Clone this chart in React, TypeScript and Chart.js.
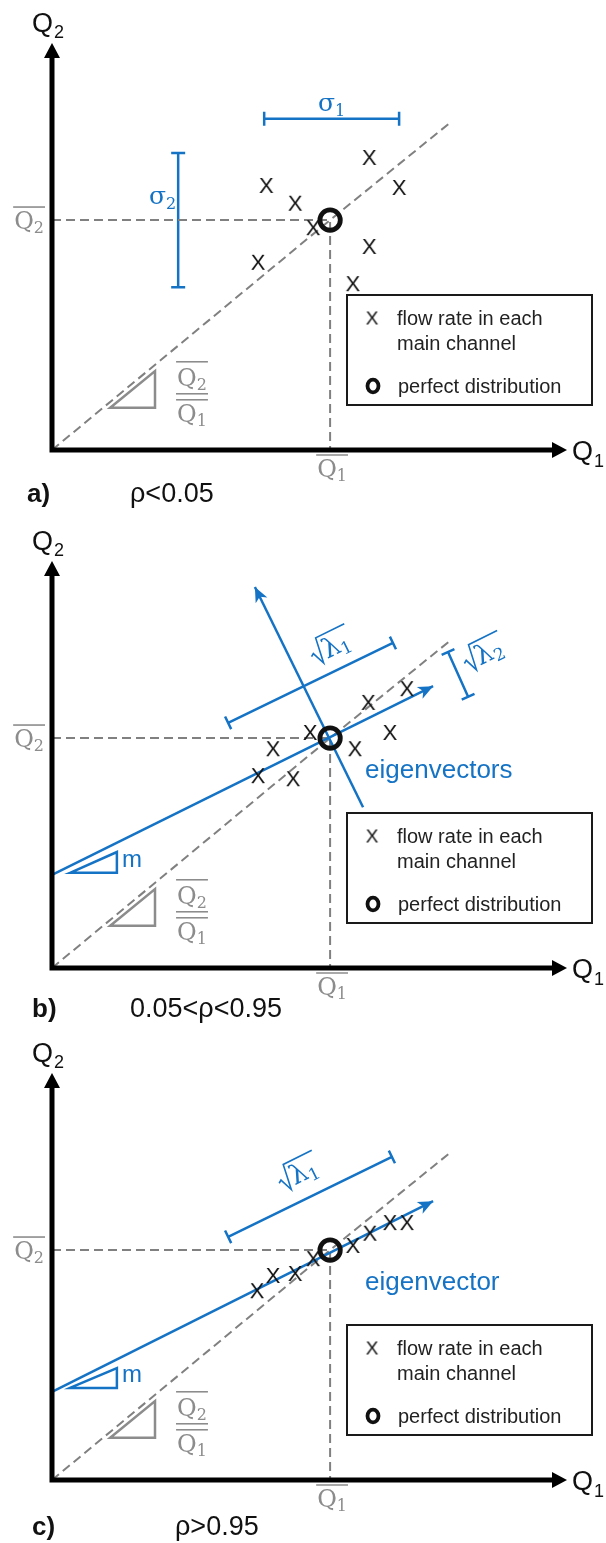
import { useEffect, useRef } from 'react';
import { Chart, registerables } from 'chart.js';

Chart.register(...registerables);

type Pt = [number, number];

const SANS = '"Liberation Sans", Arial, sans-serif';
const SERIF = '"DejaVu Serif", "Liberation Serif", serif';
const BLUE = '#1573c5';
const GREY = '#8c8c8c';
const DASH_GREY = '#808080';
const INK = '#111111';

// Axis ranges (flow-rate units)
const Q1_RANGE: Pt = [0, 100];
const Q2_RANGE: Pt = [0, 80];

// Mean flow rates (Q̄1, Q̄2): the "perfect distribution" point
const MEAN: Pt = [54, 45.2];
// Equal-split line Q2 = (Q̄2/Q̄1)·Q1 through the origin and the mean
const RATIO_LINE: Pt[] = [[0, 0], [54, 45.2], [77.5, 64.5]];
// Slope triangle under the equal-split line (hypotenuse ends, right-angle corner)
const RATIO_TRIANGLE: Pt[] = [[11.3, 8.3], [20, 15.5], [20, 8.3]];

// a) uncorrelated channel flow rates
const FLOW_A: Pt[] = [
  [61.6, 57.6], [41.6, 52.1], [47.2, 48.6], [50.7, 43.8],
  [40.0, 37.0], [67.4, 51.7], [61.6, 40.1], [58.4, 32.8],
];
const SIGMA1_A: Pt[] = [[41.2, 65.1], [67.4, 65.1]];
const SIGMA2_A: Pt[] = [[24.5, 32.0], [24.5, 58.4]];

// b) partly correlated channel flow rates
const FLOW_B: Pt[] = [
  [68.9, 55.0], [61.4, 52.3], [50.1, 46.4], [42.9, 43.2],
  [58.8, 43.2], [65.6, 46.4], [40.0, 37.9], [46.8, 37.3],
];
const EIGEN_MAJOR_B: Pt[] = [[0, 18.3], [74, 55.4]];
const EIGEN_MINOR_B: Pt[] = [[60.4, 31.6], [39.4, 74.9]];
const SQRT_LAMBDA1_B: Pt[] = [[34.2, 48.2], [66.2, 63.9]];
const SQRT_LAMBDA2_B: Pt[] = [[76.9, 62.1], [80.8, 53.3]];
const SLOPE_M_B: Pt[] = [[3.5, 18.7], [12.6, 22.8], [12.6, 18.7]];

// c) strongly correlated channel flow rates
const FLOW_C: Pt[] = [
  [68.9, 50.7], [65.6, 50.7], [61.7, 48.6], [58.4, 46.2],
  [50.7, 43.6], [47.2, 40.7], [42.9, 40.3], [39.8, 37.3],
];
const EIGEN_MAJOR_C: Pt[] = [[0, 17.3], [74, 54.8]];
const SQRT_LAMBDA1_C: Pt[] = [[34.2, 47.8], [66.0, 63.5]];
const SLOPE_M_C: Pt[] = [[3.5, 18.1], [12.6, 22.0], [12.6, 18.1]];

interface PanelSpec {
  flow: Pt[];
  tag: string;
  condition: string;
  tagX: number;
  conditionX: number;
  captionBaseline: number;
  sigma1?: Pt[];
  sigma2?: Pt[];
  eigenMajor?: Pt[];
  eigenMinor?: Pt[];
  lambda1?: Pt[];
  lambda1Offset?: Pt;
  lambda2?: Pt[];
  lambda2Offset?: Pt;
  slopeM?: Pt[];
  eigenText?: string;
}

const PANELS: PanelSpec[] = [
  {
    flow: FLOW_A, tag: 'a)', condition: 'ρ<0.05', tagX: 27, conditionX: 130, captionBaseline: 502,
    sigma1: SIGMA1_A, sigma2: SIGMA2_A,
  },
  {
    flow: FLOW_B, tag: 'b)', condition: '0.05<ρ<0.95', tagX: 32, conditionX: 130, captionBaseline: 499,
    eigenMajor: EIGEN_MAJOR_B, eigenMinor: EIGEN_MINOR_B,
    lambda1: SQRT_LAMBDA1_B, lambda1Offset: [34, -24],
    lambda2: SQRT_LAMBDA2_B, lambda2Offset: [32, -8],
    slopeM: SLOPE_M_B, eigenText: 'eigenvectors',
  },
  {
    flow: FLOW_C, tag: 'c)', condition: 'ρ>0.95', tagX: 32, conditionX: 175, captionBaseline: 505,
    eigenMajor: EIGEN_MAJOR_C,
    lambda1: SQRT_LAMBDA1_C, lambda1Offset: [0, -27],
    slopeM: SLOPE_M_C, eigenText: 'eigenvector',
  },
];

const PANEL_TOPS = [0, 518, 1030];
const W = 606;
const H = 513;

function makeGlyph(text: string, size: number): HTMLCanvasElement {
  const c = document.createElement('canvas');
  c.width = size + 2;
  c.height = size + 2;
  const g = c.getContext('2d')!;
  g.fillStyle = INK;
  g.font = `${size}px ${SANS}`;
  g.textAlign = 'center';
  g.textBaseline = 'alphabetic';
  g.fillText(text, c.width / 2, c.height / 2 + size * 0.716 / 2);
  return c;
}

function strokePoly(ctx: CanvasRenderingContext2D, pts: Pt[], color: string, width: number) {
  ctx.strokeStyle = color;
  ctx.lineWidth = width;
  ctx.lineJoin = 'miter';
  ctx.beginPath();
  pts.forEach((p, i) => (i === 0 ? ctx.moveTo(p[0], p[1]) : ctx.lineTo(p[0], p[1])));
  ctx.closePath();
  ctx.stroke();
}

function bracket(ctx: CanvasRenderingContext2D, a: Pt, b: Pt, cap: number) {
  const dx = b[0] - a[0];
  const dy = b[1] - a[1];
  const L = Math.hypot(dx, dy);
  const nx = (-dy / L) * (cap / 2);
  const ny = (dx / L) * (cap / 2);
  ctx.beginPath();
  ctx.moveTo(a[0], a[1]);
  ctx.lineTo(b[0], b[1]);
  ctx.moveTo(a[0] + nx, a[1] + ny);
  ctx.lineTo(a[0] - nx, a[1] - ny);
  ctx.moveTo(b[0] + nx, b[1] + ny);
  ctx.lineTo(b[0] - nx, b[1] - ny);
  ctx.stroke();
}

function stealthHead(ctx: CanvasRenderingContext2D, from: Pt, tip: Pt, len: number, half: number, notch: number) {
  const dx = tip[0] - from[0];
  const dy = tip[1] - from[1];
  const L = Math.hypot(dx, dy);
  const ux = dx / L;
  const uy = dy / L;
  const nx = -uy;
  const ny = ux;
  const bx = tip[0] - ux * len;
  const by = tip[1] - uy * len;
  ctx.beginPath();
  ctx.moveTo(tip[0], tip[1]);
  ctx.lineTo(bx + nx * half, by + ny * half);
  ctx.lineTo(tip[0] - ux * (len - notch), tip[1] - uy * (len - notch));
  ctx.lineTo(bx - nx * half, by - ny * half);
  ctx.closePath();
  ctx.fill();
}

function barQ(
  ctx: CanvasRenderingContext2D, x: number, baseline: number, sub: string,
  align: 'left' | 'center' | 'right', size: number, overGap: number,
) {
  const ss = Math.round(size * 0.66);
  ctx.font = `${size}px ${SERIF}`;
  const qw = ctx.measureText('Q').width;
  ctx.font = `${ss}px ${SERIF}`;
  const sw = ctx.measureText(sub).width;
  const w = qw + sw;
  const x0 = align === 'left' ? x : align === 'center' ? x - w / 2 : x - w;
  ctx.fillStyle = GREY;
  ctx.textAlign = 'left';
  ctx.textBaseline = 'alphabetic';
  ctx.font = `${size}px ${SERIF}`;
  ctx.fillText('Q', x0, baseline);
  ctx.font = `${ss}px ${SERIF}`;
  ctx.fillText(sub, x0 + qw, baseline + 4);
  ctx.strokeStyle = GREY;
  ctx.lineWidth = 1.6;
  ctx.beginPath();
  ctx.moveTo(x0 - 1, baseline - overGap);
  ctx.lineTo(x0 + w + 1, baseline - overGap);
  ctx.stroke();
}

function radicalLabel(ctx: CanvasRenderingContext2D, cx: number, cy: number, angle: number, sub: string) {
  ctx.save();
  ctx.translate(cx, cy);
  ctx.rotate(angle);
  ctx.font = `27px ${SERIF}`;
  const lw = ctx.measureText('λ').width;
  ctx.font = `17px ${SERIF}`;
  const sw = ctx.measureText(sub).width;
  const rad = 13;
  const w = rad + lw + sw + 2;
  const x0 = -w / 2;
  const base = 10;
  const topY = base - 24;
  ctx.strokeStyle = BLUE;
  ctx.lineWidth = 1.6;
  ctx.lineJoin = 'miter';
  ctx.beginPath();
  ctx.moveTo(x0, base - 9);
  ctx.lineTo(x0 + 3, base - 11);
  ctx.lineTo(x0 + 8, base + 2);
  ctx.lineTo(x0 + rad - 1, topY);
  ctx.lineTo(x0 + w + 1, topY);
  ctx.stroke();
  ctx.fillStyle = BLUE;
  ctx.textAlign = 'left';
  ctx.textBaseline = 'alphabetic';
  ctx.font = `27px ${SERIF}`;
  ctx.fillText('λ', x0 + rad, base);
  ctx.font = `17px ${SERIF}`;
  ctx.fillText(sub, x0 + rad + lw, base + 4);
  ctx.restore();
}

function sigmaLabel(ctx: CanvasRenderingContext2D, x: number, baseline: number, sub: string, align: 'center' | 'right') {
  ctx.font = `25px ${SERIF}`;
  const gw = ctx.measureText('σ').width;
  ctx.font = `16px ${SERIF}`;
  const sw = ctx.measureText(sub).width;
  const w = gw + sw;
  const x0 = align === 'center' ? x - w / 2 : x - w;
  ctx.fillStyle = BLUE;
  ctx.textAlign = 'left';
  ctx.textBaseline = 'alphabetic';
  ctx.font = `25px ${SERIF}`;
  ctx.fillText('σ', x0, baseline);
  ctx.font = `16px ${SERIF}`;
  ctx.fillText(sub, x0 + gw, baseline + 5);
}

function diagramPlugin(spec: PanelSpec, legendGlyph: HTMLCanvasElement) {
  return {
    id: 'flowDiagram',
    beforeDatasetsDraw(chart: Chart) {
      const ctx = chart.ctx;
      const P = (p: Pt): Pt => [chart.scales.x.getPixelForValue(p[0]), chart.scales.y.getPixelForValue(p[1])];
      ctx.save();
      strokePoly(ctx, RATIO_TRIANGLE.map(P), GREY, 2.5);
      if (spec.slopeM) strokePoly(ctx, spec.slopeM.map(P), BLUE, 2.5);
      ctx.strokeStyle = BLUE;
      ctx.lineWidth = 2.5;
      ctx.lineCap = 'butt';
      for (const b of [spec.sigma1, spec.sigma2, spec.lambda1, spec.lambda2]) {
        if (b) bracket(ctx, P(b[0]), P(b[1]), 14);
      }
      ctx.restore();
    },
    afterDatasetsDraw(chart: Chart) {
      const ctx = chart.ctx;
      const P = (p: Pt): Pt => [chart.scales.x.getPixelForValue(p[0]), chart.scales.y.getPixelForValue(p[1])];
      const { left, right, top, bottom } = chart.chartArea;
      ctx.save();

      // eigenvector arrowheads
      ctx.fillStyle = BLUE;
      for (const e of [spec.eigenMajor, spec.eigenMinor]) {
        if (e) stealthHead(ctx, P(e[0]), P(e[e.length - 1]), 15, 6.5, 4);
      }

      // axes with arrowheads
      ctx.strokeStyle = '#000';
      ctx.fillStyle = '#000';
      ctx.lineWidth = 5;
      ctx.lineCap = 'butt';
      ctx.beginPath();
      ctx.moveTo(left, bottom + 2.5);
      ctx.lineTo(left, top + 12);
      ctx.moveTo(left - 2.5, bottom);
      ctx.lineTo(right - 12, bottom);
      ctx.stroke();
      ctx.beginPath();
      ctx.moveTo(left, top);
      ctx.lineTo(left - 8, top + 15);
      ctx.lineTo(left + 8, top + 15);
      ctx.closePath();
      ctx.fill();
      ctx.beginPath();
      ctx.moveTo(right, bottom);
      ctx.lineTo(right - 15, bottom - 8);
      ctx.lineTo(right - 15, bottom + 8);
      ctx.closePath();
      ctx.fill();

      // axis titles
      ctx.fillStyle = INK;
      ctx.textAlign = 'left';
      ctx.textBaseline = 'alphabetic';
      ctx.font = `27px ${SANS}`;
      ctx.fillText('Q', 32, top - 11);
      ctx.fillText('Q', right + 5, bottom + 10);
      ctx.font = `18px ${SANS}`;
      ctx.fillText('2', 54, top - 5);
      ctx.fillText('1', right + 27, bottom + 17);

      // mean labels on the axes
      const m = P(MEAN);
      barQ(ctx, left - 8, m[1] + 9, '2', 'right', 24, 22);
      barQ(ctx, m[0] + 2, bottom + 27, '1', 'center', 24, 22);

      // Q̄2/Q̄1 next to the slope triangle
      const v = P(RATIO_TRIANGLE[2]);
      const fx = v[0] + 37;
      barQ(ctx, fx, v[1] - 22, '2', 'center', 24, 24);
      barQ(ctx, fx, v[1] + 14, '1', 'center', 24, 22);
      ctx.strokeStyle = GREY;
      ctx.lineWidth = 1.6;
      ctx.beginPath();
      ctx.moveTo(fx - 16, v[1] - 14);
      ctx.lineTo(fx + 16, v[1] - 14);
      ctx.stroke();

      // slope m of the principal axis
      if (spec.slopeM) {
        const c = P(spec.slopeM[2]);
        ctx.fillStyle = BLUE;
        ctx.font = `24px ${SANS}`;
        ctx.textAlign = 'left';
        ctx.fillText('m', c[0] + 5, c[1] - 6);
      }

      // standard deviations
      if (spec.sigma1) {
        const a = P(spec.sigma1[0]);
        const b = P(spec.sigma1[1]);
        sigmaLabel(ctx, (a[0] + b[0]) / 2, a[1] - 8, '1', 'center');
      }
      if (spec.sigma2) {
        const a = P(spec.sigma2[0]);
        const b = P(spec.sigma2[1]);
        sigmaLabel(ctx, a[0] - 2, (a[1] + b[1]) / 2 - 16, '2', 'right');
      }

      // square-root eigenvalue labels, rotated along the principal axis
      if (spec.eigenMajor) {
        const e0 = P(spec.eigenMajor[0]);
        const e1 = P(spec.eigenMajor[1]);
        const ang = Math.atan2(e1[1] - e0[1], e1[0] - e0[0]);
        const place = (br: Pt[] | undefined, off: Pt | undefined, sub: string) => {
          if (!br || !off) return;
          const a = P(br[0]);
          const b = P(br[1]);
          const mx = (a[0] + b[0]) / 2;
          const my = (a[1] + b[1]) / 2;
          const cx = mx + off[0] * Math.cos(ang) - off[1] * Math.sin(ang);
          const cy = my + off[0] * Math.sin(ang) + off[1] * Math.cos(ang);
          radicalLabel(ctx, cx, cy, ang, sub);
        };
        place(spec.lambda1, spec.lambda1Offset, '1');
        place(spec.lambda2, spec.lambda2Offset, '2');
      }

      if (spec.eigenText) {
        ctx.fillStyle = BLUE;
        ctx.font = `26px ${SANS}`;
        ctx.textAlign = 'left';
        ctx.fillText(spec.eigenText, m[0] + 35, m[1] + 40);
      }

      // legend box
      const lt = bottom - 155;
      const lb = bottom - 45;
      const ll = 347;
      const lr = 592;
      ctx.strokeStyle = '#1a1a1a';
      ctx.lineWidth = 2;
      ctx.strokeRect(ll, lt, lr - ll, lb - lt);
      ctx.drawImage(legendGlyph, 372 - legendGlyph.width / 2, lt + 23 - legendGlyph.height / 2);
      ctx.fillStyle = '#222';
      ctx.font = `20px ${SANS}`;
      ctx.textAlign = 'left';
      ctx.fillText('flow rate in each', 397, lt + 30);
      ctx.fillText('main channel', 397, lt + 55);
      ctx.fillText('perfect distribution', 398, lt + 98);
      ctx.strokeStyle = INK;
      ctx.lineWidth = 3.8;
      ctx.beginPath();
      ctx.ellipse(373, lt + 91, 5.5, 6.3, 0, 0, Math.PI * 2);
      ctx.stroke();

      // caption
      ctx.fillStyle = INK;
      ctx.font = `bold 26px ${SANS}`;
      ctx.fillText(spec.tag, spec.tagX, spec.captionBaseline);
      ctx.font = `27px ${SANS}`;
      ctx.fillText(spec.condition, spec.conditionX, spec.captionBaseline);

      ctx.restore();
    },
  };
}

const toXY = (pts: Pt[]) => pts.map(([x, y]) => ({ x, y }));

function Panel({ spec, top }: { spec: PanelSpec; top: number }) {
  const ref = useRef<HTMLCanvasElement>(null);

  useEffect(() => {
    const canvas = ref.current;
    if (!canvas) return;
    const cross = makeGlyph('X', 22);
    const legendCross = makeGlyph('X', 19);

    const line = (pts: Pt[], color: string, width: number, dash: number[], order: number) => ({
      data: toXY(pts),
      showLine: true,
      borderColor: color,
      borderWidth: width,
      borderDash: dash,
      pointRadius: 0,
      clip: false as const,
      order,
    });

    const datasets: any[] = [
      line(RATIO_LINE, DASH_GREY, 2, [9, 5], 6),
      line([[Q1_RANGE[0], MEAN[1]], MEAN, [MEAN[0], Q2_RANGE[0]]], DASH_GREY, 2, [9, 5], 5),
    ];
    if (spec.eigenMajor) datasets.push(line(spec.eigenMajor, BLUE, 2.5, [], 4));
    if (spec.eigenMinor) datasets.push(line(spec.eigenMinor, BLUE, 2.5, [], 4));
    datasets.push({
      data: toXY(spec.flow),
      pointStyle: cross,
      pointRadius: 10,
      clip: false,
      order: 2,
    });
    datasets.push({
      data: toXY([MEAN]),
      pointStyle: 'circle',
      pointRadius: 10.2,
      pointBorderWidth: 4.8,
      pointBorderColor: INK,
      pointBackgroundColor: 'rgba(0,0,0,0)',
      clip: false,
      order: 1,
    });

    const chart = new Chart(canvas, {
      type: 'scatter',
      data: { datasets },
      options: {
        responsive: false,
        animation: false,
        devicePixelRatio: 1,
        events: [],
        layout: { padding: { left: 52, right: W - 567, top: 43, bottom: H - 450 } },
        scales: {
          x: { type: 'linear', min: Q1_RANGE[0], max: Q1_RANGE[1], display: false },
          y: { type: 'linear', min: Q2_RANGE[0], max: Q2_RANGE[1], display: false },
        },
        plugins: { legend: { display: false }, tooltip: { enabled: false } },
      },
      plugins: [diagramPlugin(spec, legendCross) as any],
    });
    return () => chart.destroy();
  }, [spec]);

  return (
    <canvas
      ref={ref}
      width={W}
      height={H}
      style={{ position: 'absolute', left: 0, top, width: W, height: H, display: 'block' }}
    />
  );
}

export default function App() {
  return (
    <div style={{ position: 'absolute', left: 0, top: 0, width: W, height: 1543, background: '#fff' }}>
      {PANELS.map((spec, i) => (
        <Panel key={spec.tag} spec={spec} top={PANEL_TOPS[i]} />
      ))}
    </div>
  );
}
